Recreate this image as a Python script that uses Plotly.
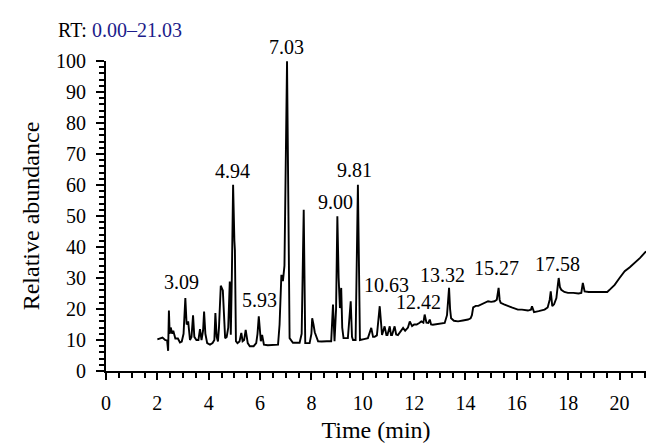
import plotly.graph_objects as go

# chromatogram trace (time in min, relative abundance %)
rt = [2.00, 2.10, 2.20, 2.30, 2.38, 2.42, 2.45, 2.48, 2.52, 2.58, 2.62, 2.70, 2.80, 2.88,
      2.95, 3.02, 3.09, 3.14, 3.20, 3.27, 3.33, 3.39, 3.44, 3.52, 3.60, 3.66, 3.72, 3.78,
      3.82, 3.87, 3.94, 4.05, 4.15, 4.22, 4.26, 4.31, 4.36, 4.40, 4.47, 4.55, 4.59, 4.64,
      4.70, 4.76, 4.82, 4.86, 4.90, 4.95, 5.00, 5.02, 5.06, 5.12, 5.20, 5.27, 5.32, 5.38,
      5.44, 5.52, 5.60, 5.75, 5.85, 5.90, 5.95, 6.00, 6.03, 6.08, 6.15, 6.30, 6.50, 6.70,
      6.76, 6.83, 6.89, 6.95, 7.05, 7.10, 7.15, 7.28, 7.40, 7.54, 7.62, 7.70, 7.76, 7.85,
      7.93, 8.00, 8.03, 8.08, 8.13, 8.26, 8.40, 8.60, 8.77, 8.84, 8.90, 8.96, 9.01, 9.06,
      9.11, 9.16, 9.20, 9.25, 9.42, 9.53, 9.58, 9.62, 9.72, 9.81, 9.87, 9.89, 10.05, 10.20,
      10.33, 10.40, 10.46, 10.55, 10.66, 10.72, 10.75, 10.85, 10.92, 10.96, 11.05, 11.10,
      11.14, 11.24, 11.30, 11.37, 11.45, 11.57, 11.65, 11.76, 11.83, 11.92, 12.00, 12.10,
      12.20, 12.28, 12.36, 12.41, 12.48, 12.55, 12.61, 12.66, 12.73, 12.85, 13.00, 13.10,
      13.19, 13.28, 13.36, 13.40, 13.44, 13.55, 13.71, 13.90, 14.10, 14.20, 14.25, 14.30,
      14.40, 14.50, 14.61, 14.75, 14.88, 15.00, 15.13, 15.22, 15.29, 15.33, 15.37, 15.50,
      15.65, 15.80, 16.04, 16.20, 16.43, 16.55, 16.59, 16.63, 16.67, 16.85, 17.08, 17.20,
      17.28, 17.32, 17.38, 17.45, 17.54, 17.60, 17.63, 17.68, 17.73, 17.85, 17.99, 18.20,
      18.40, 18.51, 18.57, 18.64, 18.80, 19.03, 19.30, 19.52, 19.65, 19.81, 20.00, 20.20,
      20.40, 20.59, 20.80, 21.03]
abundance = [10.2, 10.5, 10.8, 10.0, 9.8, 6.5, 19.5, 12, 14, 12, 13, 10.5, 10.5, 9.2,
             9.5, 12, 23.5, 15, 16, 10, 11, 18, 11, 10, 10, 13.5, 10, 13,
             19.2, 12, 9, 8.5, 9, 10, 18.7, 11, 9.5, 14, 27.5, 26, 16, 10.6,
             11, 14, 28.9, 11.7, 30, 60.1, 42, 39, 9.6, 9, 9.5, 12.3, 9.6, 10,
             13.3, 9, 8, 8, 9, 12, 17.6, 10, 9.6, 11.6, 8.5, 8.3, 8.4, 8.5,
             15, 31, 29, 34, 99.9, 40, 10.6, 9.1, 9, 9.1, 12, 52, 9, 9,
             9, 12, 17, 15, 12.5, 9.6, 9.5, 9.6, 9.6, 21.4, 9.6, 20, 49.9, 30,
             20.3, 26.8, 14, 10.6, 10.6, 22.5, 11, 10, 10, 60.1, 12, 10, 10.3, 10.6,
             13.9, 11, 11, 11.5, 20.9, 12, 11.6, 14.4, 11.6, 11.6, 14.4, 11.6,
             11.6, 14.4, 11.8, 11.6, 12.5, 13.9, 13, 14, 16, 14.5, 15, 15,
             15.5, 16, 15.6, 18.2, 15.6, 15.5, 16.6, 15, 14.9, 15, 15.2, 15.3,
             15.5, 18, 26.8, 20, 17, 16.2, 16, 16.3, 16.6, 17, 18, 20.5,
             21, 21, 21.4, 22, 22.5, 22.3, 22.5, 23, 26.8, 23, 22, 21.5,
             20.9, 20.5, 19.8, 19.8, 19.5, 19.8, 20.9, 19.5, 19, 19.3, 19.8, 20.5,
             23, 25.7, 20.9, 21.5, 23.5, 28, 30, 27, 26.2, 25.5, 25.2, 25.2,
             25, 25.2, 28.4, 25.7, 25.5, 25.5, 25.5, 25.5, 26.5, 27.8, 30, 32.2,
             33.5, 34.8, 36.5, 38.6]

# labelled peaks
peak_labels = ["3.09", "4.94", "5.93", "7.03", "9.00", "9.81", "10.63", "12.42", "13.32", "15.27", "17.58"]
peak_rt = [3.09, 4.94, 5.93, 7.03, 9.00, 9.81, 10.63, 12.42, 13.32, 15.27, 17.58]
peak_height = [23.5, 60.1, 17.6, 99.9, 49.9, 60.1, 20.9, 18.2, 26.8, 26.8, 30]

# small pixel nudges of the labels (x, y)
label_shift = {"3.09": (-4, 3), "5.93": (1, 3), "9.00": (-2, 1), "9.81": (-3, 2),
               "10.63": (8, 8), "12.42": (-6, 0), "13.32": (-6, 0), "15.27": (-2, 7)}

FONT = "Liberation Serif"
FS = 20

fig = go.Figure()
fig.add_trace(go.Scatter(x=rt, y=abundance, mode="lines",
                         line=dict(color="black", width=1.9),
                         cliponaxis=False, hoverinfo="skip"))

for lab, x, y in zip(peak_labels, peak_rt, peak_height):
    dx, dy = label_shift.get(lab, (0, 1))
    fig.add_annotation(x=x, y=y, text=lab, showarrow=False, xanchor="center",
                       yanchor="bottom", xshift=dx, yshift=dy,
                       font=dict(family=FONT, size=FS, color="black"))

fig.add_annotation(xref="paper", yref="paper", x=-0.093, y=1.1, xanchor="left",
                   yanchor="middle", showarrow=False,
                   text="RT: <span style='color:#1c1c8a'>0.00\u201321.03</span>",
                   font=dict(family=FONT, size=FS, color="black"))

fig.update_layout(
    width=654, height=447,
    margin=dict(l=98, r=16, t=53, b=84),
    paper_bgcolor="white", plot_bgcolor="white",
    showlegend=False,
    font=dict(family=FONT, size=FS, color="black"),
    xaxis=dict(range=[0, 21.03], dtick=2, tick0=0, showgrid=False, zeroline=False,
               showline=True, linecolor="black", linewidth=2,
               ticks="outside", ticklen=7, tickwidth=1.5, tickcolor="black",
               ticklabelstandoff=6,
               minor=dict(dtick=0.5, ticks="outside", ticklen=5, tickwidth=1.5,
                          tickcolor="black", showgrid=False),
               title=dict(text="Time (min)", standoff=8)),
    yaxis=dict(range=[0, 100], dtick=10, tick0=0, showgrid=False, zeroline=False,
               showline=True, linecolor="black", linewidth=2,
               ticks="outside", ticklen=8, tickwidth=1.5, tickcolor="black",
               ticklabelstandoff=6,
               minor=dict(dtick=2, ticks="outside", ticklen=5, tickwidth=1.5,
                          tickcolor="black", showgrid=False),
               title=dict(text="Relative abundance", standoff=10)),
)

fig.write_html("out.html")
